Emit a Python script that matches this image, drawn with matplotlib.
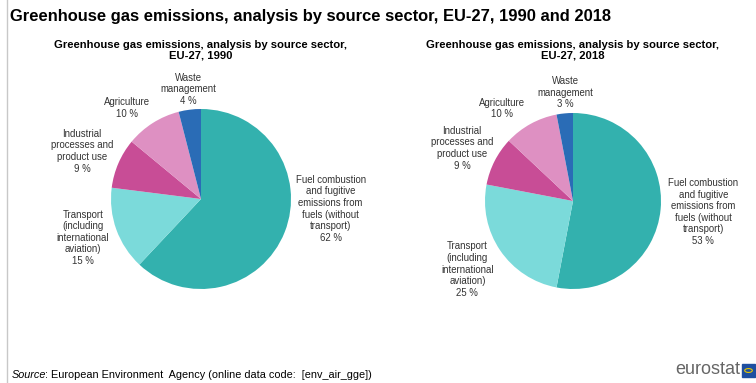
import matplotlib.pyplot as plt
from matplotlib.patches import Rectangle, Circle
from matplotlib.lines import Line2D

plt.rcParams['font.family'] = ['Liberation Sans', 'DejaVu Sans']

# Source sectors, in drawing order (clockwise from 12 o'clock)
sectors = ['Fuel combustion\nand fugitive\nemissions from\nfuels (without\ntransport)',
           'Transport\n(including\ninternational\naviation)',
           'Industrial\nprocesses and\nproduct use',
           'Agriculture',
           'Waste\nmanagement']
share_1990 = [62, 15, 9, 10, 4]
share_2018 = [53, 25, 9, 10, 3]
colors = ['#33B1AE', '#7BDADA', '#C84D96', '#DE90C2', '#2A6CB6']

# label anchor points, in units of the pie radius
label_pos_1990 = [(1.44, -0.11), (-1.31, -0.43), (-1.32, 0.53), (-0.82, 1.01), (-0.14, 1.22)]
label_pos_2018 = [(1.48, -0.125), (-1.20, -0.78), (-1.26, 0.60), (-0.81, 1.05), (-0.09, 1.23)]

W, H = 756, 383
fig = plt.figure(figsize=(W / 100, H / 100), dpi=100)
fig.patch.set_facecolor('white')


def draw_pie(cx, cy, r, values, label_pos, subtitle):
    half = 160
    ax = fig.add_axes([(cx - half) / W, 1 - (cy + half) / H, 2 * half / W, 2 * half / H])
    ax.pie(values, colors=colors, startangle=90, counterclock=False,
           wedgeprops=dict(linewidth=0))
    lim = half / r
    ax.set_xlim(-lim, lim)
    ax.set_ylim(-lim, lim)
    ax.set_aspect('equal')
    ax.axis('off')
    for name, val, (lx, ly) in zip(sectors, values, label_pos):
        ax.text(lx, ly, f'{name}\n{val} %', ha='center', va='center',
                fontsize=6.9, color='#333333', linespacing=1.2)
    fig.text(cx / W, 1 - 50 / H, subtitle, ha='center', va='center',
             fontsize=8.1, fontweight='bold', linespacing=1.1)


draw_pie(201, 199, 90, share_1990, label_pos_1990,
         'Greenhouse gas emissions, analysis by source sector,\nEU-27, 1990')
draw_pie(573, 201, 88, share_2018, label_pos_2018,
         'Greenhouse gas emissions, analysis by source sector,\nEU-27, 2018')

fig.text(10 / W, 1 - 16 / H,
         'Greenhouse gas emissions, analysis by source sector, EU-27, 1990 and 2018',
         ha='left', va='center', fontsize=11.9, fontweight='bold')

# footer: italic "Source" followed by the rest of the line
renderer = fig.canvas.get_renderer()
src = fig.text(12 / W, 1 - 375 / H, 'Source', ha='left', va='center',
               fontsize=7.8, style='italic')
x_end = src.get_window_extent(renderer).x1 - 1
fig.text(x_end / W, 1 - 375 / H,
         ': European Environment  Agency (online data code:  [env_air_gge])',
         ha='left', va='center', fontsize=7.8)

# eurostat mark
fig.text(740 / W, 1 - 370 / H, 'eurostat', ha='right', va='center',
         fontsize=13, color='#666666')
fig.add_artist(Rectangle((742 / W, 1 - 377 / H), 13 / W, 13 / H,
                         transform=fig.transFigure, color='#1F4FA0'))
fig.add_artist(Circle((748.5 / W, 1 - 370.5 / H), 3.8 / W,
                      transform=fig.transFigure, fill=False, ec='#E8C800', lw=0.8))

# left border rule
fig.add_artist(Line2D([7 / W, 7 / W], [0, 1], transform=fig.transFigure,
                      color='#C8C8C8', lw=1))

fig.savefig('out.png', dpi=100, facecolor='white')
